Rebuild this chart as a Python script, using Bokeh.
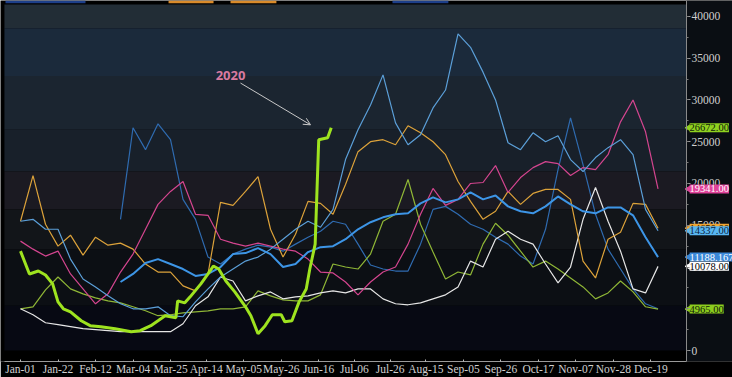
import numpy as np
import pandas as pd
from bokeh.plotting import figure
from bokeh.models import (Range1d, FixedTicker, SingleIntervalTicker, BoxAnnotation,
                          Label, Arrow, OpenHead)
from bokeh.embed import file_html
from bokeh.resources import INLINE

NaN = np.nan
YEAR = 2020

# ---- x axis ticks (3-weekly labels) ----
tick_labels = ["Jan-01", "Jan-22", "Feb-12", "Mar-04", "Mar-25", "Apr-14", "May-05",
               "May-26", "Jun-16", "Jul-06", "Jul-26", "Aug-15", "Sep-05", "Sep-26",
               "Oct-17", "Nov-07", "Nov-28", "Dec-19"]
jan1 = pd.Timestamp(f"{YEAR}-01-01")
tick_days = [int((pd.to_datetime(f"{YEAR}-{t}", format="%Y-%b-%d") - jan1).days) for t in tick_labels]

# ---- weekly series (day of year offsets) ----
week_days = list(range(0, 358, 7))

pink = [13100, 12140, 11310, 11900, 9170, 7380, 5600, 6790, 9400, 11550, 14520, 17500,
        19050, 20240, 16310, 16190, 13330, 12860, 12500, 12860, 12500, 12140, 11900, 10950,
        9400, 9290, 8210, 6670, 8210, 9400, 10000, 12740, 16310, 19410, 17380, 18100,
        20000, 20120, 22140, 18930, 20710, 21900, 22620, 22380, 20950, 21900, 21670, 23450,
        27380, 30000, 26190, 19341]

orange = [15480, 20950, 15120, 12500, 13810, 11430, 13570, 12620, 12860, 12140, 10360, 9400,
          9400, 7740, 7140, 9170, 17740, 17380, 19050, 20830, 14520, 11190, 13930, 17860,
          17620, 16310, 19880, 23810, 25000, 25240, 24640, 26910, 26070, 25000, 23450, 20240,
          17860, 15710, 16670, 19050, 17500, 18810, 19290, 19290, 18100, 10710, 8690, 13330,
          14170, 17620, 17500, 14650]

steel_blue = [15480, 15710, 14520, 14520, 10950, 8570, 7620, 6550, 5600, 5000, 5000, 5240,
              4170, 4050, 5830, 7380, 8810, 9760, 10710, 11190, 12140, 13330, 14520, 15480,
              14760, 16900, 22860, 26430, 29400, 33000, 27260, 24640, 25830, 29050, 31190, 37900,
              36300, 33330, 30000, 24880, 24050, 26070, 25000, 25710, 22860, 21430, 23100, 24290,
              25240, 23450, 16900, 14337]

mid_blue = [NaN, NaN, NaN, NaN, NaN, NaN, NaN, NaN, 8210, 9170, 10480, 10950,
            10360, 9760, 8930, 9170, 10000, 11550, 11670, 12260, 11550, 10000, 10360, 11790,
            12380, 12500, 13330, 14520, 15360, 15950, 16310, 16430, 17620, 18330, 17740, 18100,
            18930, 18100, 18570, 17260, 16670, 16430, 17260, 18450, 17500, 16670, 16430, 17140,
            17140, 16190, 13570, 11188.167]

dark_blue = [NaN, NaN, NaN, NaN, NaN, NaN, NaN, NaN, 15710, 26670, 24050, 27140,
             25240, 18100, 15710, 11190, 10360, 11550, 12140, 12620, 12380, 11900, 12740, 13570,
             14290, 15480, 15120, 12740, 10240, 9760, 9520, 9520, 12740, 16900, 17260, 16310,
             15120, 14520, 13570, 12740, 11310, 10360, 14520, 21670, 27860, 22260, 16310, 12140,
             9760, 7380, 5600, 5000]

white = [5000, 4290, 3330, 3100, 2860, 2620, 2500, 2380, 2260, 2260, 2260, 2260,
         2260, 3210, 5360, 6430, 8810, 8330, 5950, 6550, 7020, 6190, 6430, 6550,
         6900, 7140, 6900, 7380, 7380, 6190, 5600, 5480, 5710, 6190, 6670, 7620,
         10710, 10000, 13330, 14290, 13330, 12740, 10360, 8100, 10000, 15710, 19520, 15480,
         11900, 7380, 6900, 10078]

green = [5000, 5240, 7260, 8810, 7380, 6790, 6310, 5950, 5710, 5240, 4760, 4170,
         4290, 4520, 4640, 4760, 5000, 5000, 5240, 7140, 6550, 6070, 5950, 5950,
         6670, 10360, 10000, 9760, 11550, 15480, 16310, 20480, 15120, 11790, 8570, 9400,
         9050, 12740, 15240, 13810, 11900, 10000, 10710, 9760, 8690, 7620, 6190, 6900,
         8330, 7020, 5240, 4965]

# ---- 2020 (current year, finer sampling) ----
days_2020 = [0, 5, 10, 14, 18, 21, 24, 28, 34, 39, 45, 53, 62, 67, 73, 77, 81, 87, 88,
             92, 95, 101, 105, 108, 111, 115, 120, 126, 129, 133, 137, 141, 146, 148, 152,
             156, 160, 162, 165, 167, 172, 174]
vals_2020 = [11900, 9170, 9520, 9050, 7980, 5830, 5000, 4640, 3570, 2980, 2860, 2620, 2260,
             2380, 2980, 3570, 4170, 3930, 5950, 5710, 6430, 7980, 9170, 10120, 9760, 8330,
             7020, 5240, 4170, 2020, 2980, 4290, 4290, 3450, 3570, 5830, 7380, 9760, 12740,
             25240, 25480, 26672]

# ---- background bands (value edges, top to bottom) ----
band_edges = [41430, 38570, 32860, 26430, 21430, 16900, 12140, 5360, 0]
band_colors = ["#222d36", "#1b2a3b", "#1b2530", "#18202a", "#1b1a22", "#121519", "#0c0f14", "#070913"]

# ---- header tabs (legend tabs cut at the top of the panel): start day, end day, colour ----
tab_starts = [-8.4, 82.9, 117.6, 208.3]
tab_ends = [36.4, 108.1, 143.3, 239.6]
tab_colors = ["#1d3f8a", "#d98a2a", "#d98a2a", "#1d3f8a"]

X_RANGE = (-11.2, 398.7)
Y_RANGE = (-1310, 41905)
AXIS_X = 373          # day position where the value axis is drawn
PANEL_LEFT = -9       # left edge of the shaded panel

p = figure(width=732, height=377, x_range=Range1d(*X_RANGE), y_range=Range1d(*Y_RANGE),
           y_axis_location="right", output_backend="svg", toolbar_location=None,
           min_border_left=0, min_border_top=0, min_border_bottom=0, min_border_right=0,
           background_fill_color="#000000", border_fill_color="#000000")
p.outline_line_color = None
p.grid.visible = False

for top, bottom, col in zip(band_edges[:-1], band_edges[1:], band_colors):
    p.add_layout(BoxAnnotation(bottom=bottom, top=top, left=PANEL_LEFT, right=AXIS_X,
                               fill_color=col, fill_alpha=1.0, line_alpha=0, level="underlay"))
p.add_layout(BoxAnnotation(left=AXIS_X, fill_color="#0a0e13", fill_alpha=1.0,
                           line_alpha=0, level="underlay"))
for s, e, c in zip(tab_starts, tab_ends, tab_colors):
    p.add_layout(BoxAnnotation(left=s, right=e, bottom=band_edges[0] + 150, fill_color=c,
                               fill_alpha=1.0, line_alpha=0, level="underlay"))

FONT = "Liberation Sans Narrow"

# x axis
p.xaxis.ticker = FixedTicker(ticks=tick_days)
p.xaxis.major_label_overrides = {d: t for d, t in zip(tick_days, tick_labels)}
p.xaxis.bounds = (PANEL_LEFT, AXIS_X)
p.xaxis.axis_line_color = "#9a9a9a"
p.xaxis.major_tick_line_color = "#bbbbbb"
p.xaxis.major_tick_in = 2
p.xaxis.major_tick_out = 0
p.xaxis.minor_tick_line_color = None
p.xaxis.major_label_text_color = "#d0d0d0"
p.xaxis.major_label_text_font = FONT
p.xaxis.major_label_text_font_size = "11.5px"
p.xaxis.major_label_standoff = 1

# y axis (drawn at AXIS_X, labels to its right)
p.yaxis.fixed_location = AXIS_X
p.yaxis.ticker = SingleIntervalTicker(interval=5000, num_minor_ticks=2)
p.yaxis.bounds = (Y_RANGE[0], Y_RANGE[1])
p.yaxis.axis_line_color = "#8a8a8a"
p.yaxis.major_tick_line_color = "#9a9a9a"
p.yaxis.minor_tick_line_color = "#7a7a7a"
p.yaxis.major_tick_in = 0
p.yaxis.major_tick_out = 4
p.yaxis.minor_tick_in = 0
p.yaxis.minor_tick_out = 2
p.yaxis.major_label_text_color = "#d0d0d0"
p.yaxis.major_label_text_font = FONT
p.yaxis.major_label_text_font_size = "11.5px"
p.yaxis.major_label_standoff = 1

thin = 1.2
p.line(week_days, dark_blue, line_color="#2f6bb0", line_width=thin)
p.line(week_days, green, line_color="#8fb636", line_width=thin)
p.line(week_days, white, line_color="#e6e6e6", line_width=thin)
p.line(week_days, orange, line_color="#dca23a", line_width=thin)
p.line(week_days, pink, line_color="#d4458f", line_width=thin)
p.line(week_days, steel_blue, line_color="#5b9fd8", line_width=thin)
p.line(week_days, mid_blue, line_color="#3d95e6", line_width=2)
p.line(days_2020, vals_2020, line_color="#9ee31f", line_width=3)

# annotation "2020" with arrow
p.add_layout(Label(x=117.6, y=32980, text="2020", text_font="Open Sans", text_font_style="bold",
                   text_font_size="13px", text_color="#d97aa0", text_align="center",
                   text_baseline="middle"))
p.add_layout(Arrow(end=OpenHead(size=7, line_color="#c8c8c8", line_width=1),
                   x_start=123.2, y_start=32020, x_end=162.4, y_end=27020,
                   line_color="#c8c8c8", line_width=1))

# last-value tags on the right of the value axis
tags = [
    (vals_2020[-1], "26672.00", "#8fd11f", "#10200a"),
    (pink[-1], "19341.00", "#e0429a", "#ffffff"),
    (orange[-1], "14650.00", "#f0a534", "#1a1000"),
    (steel_blue[-1], "14337.00", "#58b6f2", "#0b2340"),
    (mid_blue[-1], "11188.167", "#3a88d8", "#ffffff"),
    (white[-1], "10078.00", "#ffffff", "#000000"),
    (green[-1], "4965.00", "#8ccc1e", "#10200a"),
]
for val, txt, bg, fg in tags:
    p.scatter([AXIS_X + 1.4], [val], marker="triangle", angle=np.pi / 2, size=7,
              fill_color=bg, line_color=bg)
    p.add_layout(Label(x=AXIS_X, y=val, x_offset=3, text=txt, text_font=FONT,
                       text_font_size="10.5px", text_color=fg, text_align="left",
                       text_baseline="middle", background_fill_color=bg,
                       background_fill_alpha=1.0, padding=(0, 1)))

open("out.html", "w").write(file_html(p, INLINE))
